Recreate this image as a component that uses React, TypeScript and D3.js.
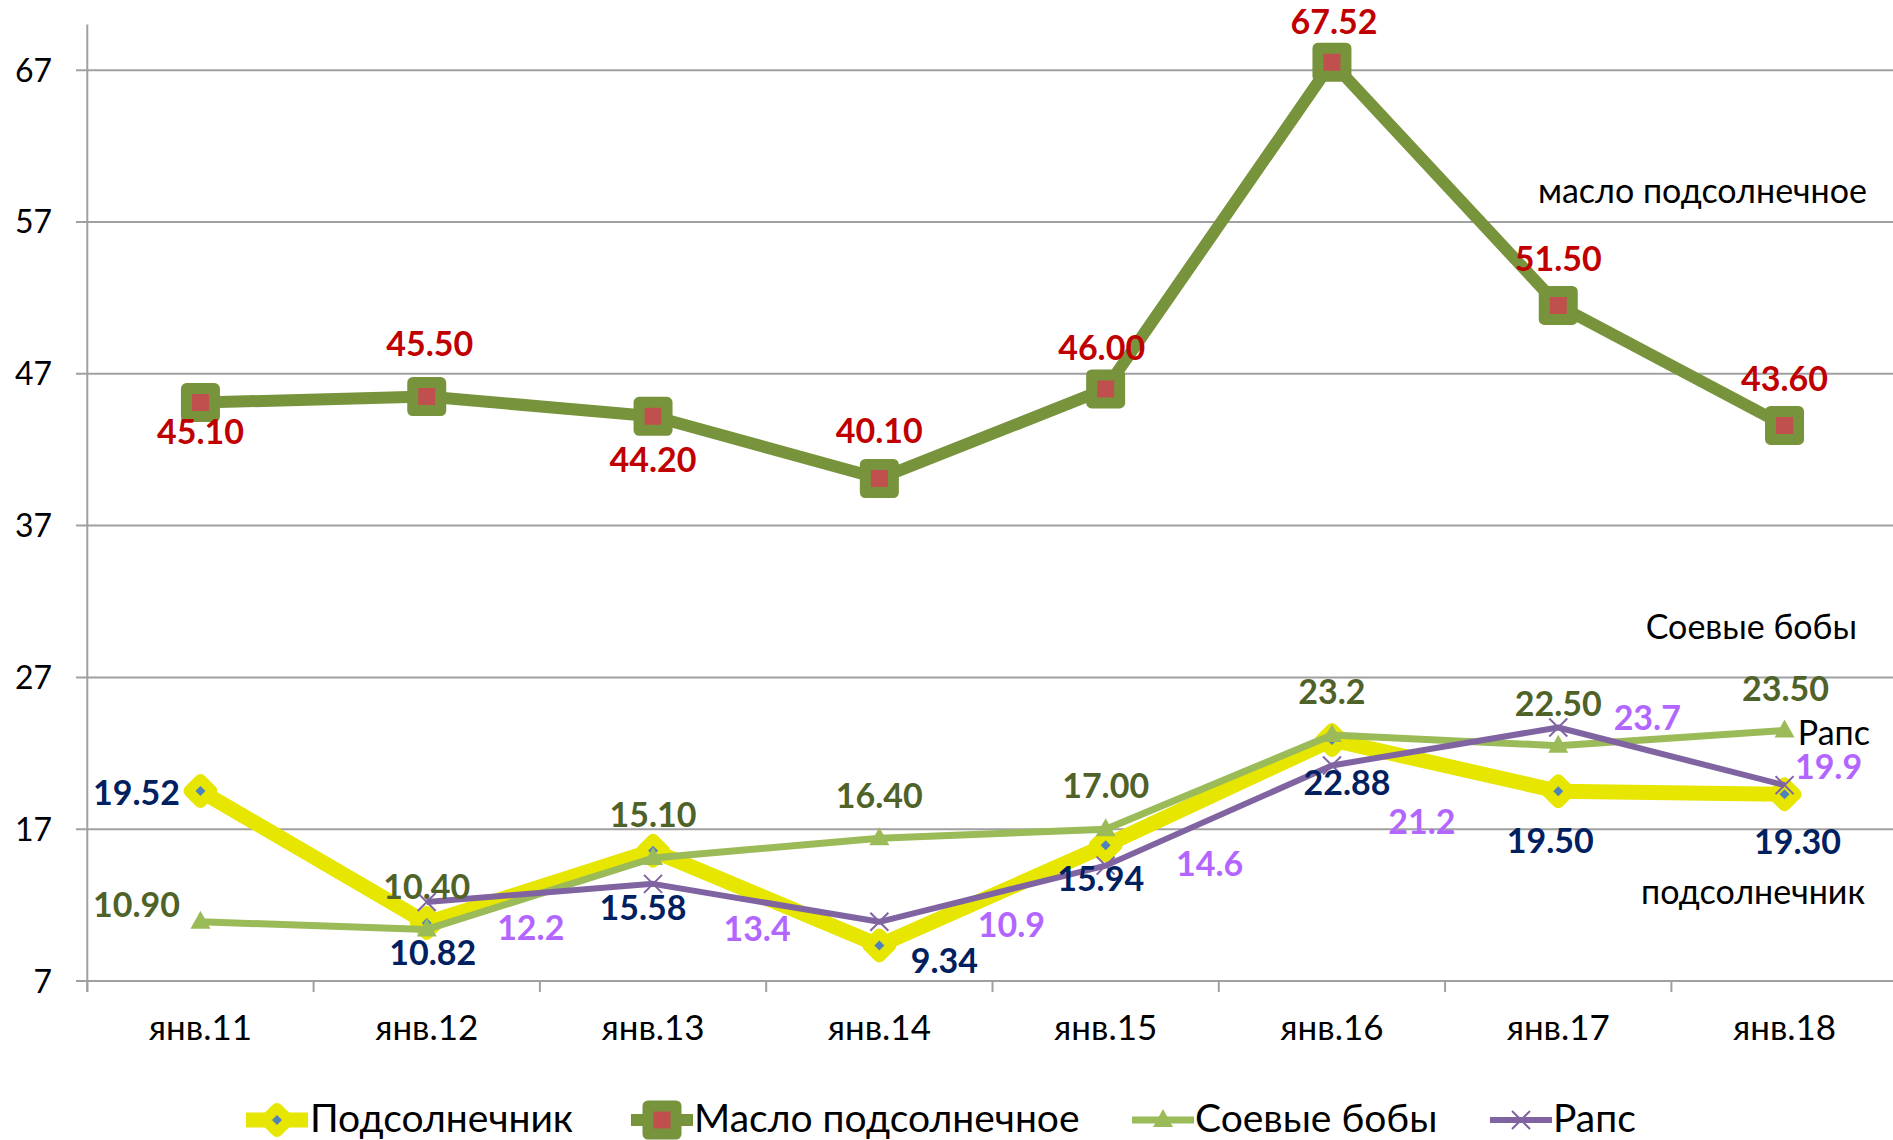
import React from "react";
import * as d3 from "d3";

const categories = ["янв.11", "янв.12", "янв.13", "янв.14", "янв.15", "янв.16", "янв.17", "янв.18"];
const sunflower = [19.52, 10.82, 15.58, 9.34, 15.94, 22.88, 19.5, 19.3];
const sunflowerOil = [45.1, 45.5, 44.2, 40.1, 46.0, 67.52, 51.5, 43.6];
const soybeans = [10.9, 10.4, 15.1, 16.4, 17.0, 23.2, 22.5, 23.5];
const soybeanLabels = ["10.90", "10.40", "15.10", "16.40", "17.00", "23.2", "22.50", "23.50"];
const rapeseed: (number | null)[] = [null, 12.2, 13.4, 10.9, 14.6, 21.2, 23.7, 19.9];
const yTicks = [7, 17, 27, 37, 47, 57, 67];
const seriesNames = ["Подсолнечник", "Масло подсолнечное", "Соевые бобы", "Рапс"];
const annotations = ["масло подсолнечное", "Соевые бобы", "Рапс", "подсолнечник"];

// label placement (dx, dy of label centre relative to the point)
const oilLabelOff = [[0, 29], [3, -53], [0, 43], [0, -48], [-4, -41], [2, -41], [0, -47], [0, -47]];
const sunLabelOff = [[-64, 2], [6, 30], [-10, 57], [65, 15], [-5, 33], [15, 43], [-8, 50], [13, 47]];
const soyLabelOff = [[-64, -17], [0, -43], [0, -43], [0, -43], [0, -43], [0, -43], [0, -42], [1, -42]];
const rapeLabelOff = [[0, 0], [104, 26], [104, 45], [132, 3], [104, -2], [90, 56], [89, -10], [44, -18]];

const W = 1893, H = 1140;
const FONT = "Lato, 'Open Sans', sans-serif";
const C = {
  sun: "#E6E600", sunInner: "#4F81BD", sunLbl: "#002060",
  oil: "#77933C", oilInner: "#C0504D", oilLbl: "#C00000",
  soy: "#9BBB59", soyLbl: "#4F6228",
  rape: "#8064A2", rapeLbl: "#B366FF",
  grid: "#A0A0A0",
};

const x = d3.scaleBand<string>().domain(categories).range([87.3, 1897.7]).padding(0);
const y = d3.scaleLinear().domain([7, 70]).range([981, 24.6]);
const cx = (i: number) => (x(categories[i]) as number) + x.bandwidth() / 2;

function Diamond({ px, py }: { px: number; py: number }) {
  const r = 11, ri = 5;
  return (
    <g transform={`translate(${px},${py})`}>
      <path d={`M0,${-r}L${r},0L0,${r}L${-r},0Z`} fill={C.sun} stroke={C.sun} strokeWidth={12} strokeLinejoin="round" />
      <path d={`M0,${-ri}L${ri},0L0,${ri}L${-ri},0Z`} fill={C.sunInner} />
    </g>
  );
}
function Square({ px, py }: { px: number; py: number }) {
  return (
    <rect x={px - 14} y={py - 14} width={28} height={28} fill={C.oilInner} stroke={C.oil} strokeWidth={11} strokeLinejoin="round" />
  );
}
function Tri({ px, py }: { px: number; py: number }) {
  return <path d={`M${px},${py - 11}L${px + 10},${py + 7}L${px - 10},${py + 7}Z`} fill={C.soy} />;
}
function Cross({ px, py }: { px: number; py: number }) {
  const s = 9;
  return (
    <g stroke={C.rape} strokeWidth={2}>
      <line x1={px - s} y1={py - s} x2={px + s} y2={py + s} />
      <line x1={px - s} y1={py + s} x2={px + s} y2={py - s} />
    </g>
  );
}

export default function App() {
  const lineGen = d3
    .line<number | null>()
    .defined((d) => d !== null)
    .x((_, i) => cx(i))
    .y((d) => y(d as number));

  const LBL = 34;
  const label = (txt: string, px: number, py: number, off: number[], color: string, key: string) => (
    <text key={key} x={px + off[0]} y={py + off[1] + LBL * 0.36} textAnchor="middle" fontFamily={FONT} fontWeight={700} fontSize={LBL} fill={color}>
      {txt}
    </text>
  );

  const f2 = d3.format(".2f");
  const f1 = d3.format(".1f");
  const boundaries = d3.range(categories.length + 1).map((k) => 87.3 + k * x.bandwidth());

  const legend = [
    { name: seriesNames[0], cx: 277, tx: 310, color: C.sun, w: 15, m: (p: number) => <Diamond px={p} py={1120} /> },
    { name: seriesNames[1], cx: 662, tx: 694, color: C.oil, w: 12, m: (p: number) => <Square px={p} py={1120} /> },
    { name: seriesNames[2], cx: 1163, tx: 1195, color: C.soy, w: 7, m: (p: number) => <Tri px={p} py={1120} /> },
    { name: seriesNames[3], cx: 1521, tx: 1553, color: C.rape, w: 6, m: (p: number) => <Cross px={p} py={1120} /> },
  ];

  return (
    <svg width={W} height={H} style={{ position: "absolute", left: 0, top: 0, background: "#fff" }}>
      {/* grid */}
      {yTicks.map((t) => (
        <g key={t}>
          <line x1={76} x2={W} y1={y(t)} y2={y(t)} stroke={C.grid} strokeWidth={2} />
          <text x={52} y={y(t) + 11.5} textAnchor="end" fontFamily={FONT} fontSize={32} fill="#000">{t}</text>
        </g>
      ))}
      <line x1={87.3} x2={87.3} y1={24.6} y2={992} stroke={C.grid} strokeWidth={2} />
      {boundaries.map((b, k) => (
        <line key={k} x1={b} x2={b} y1={981} y2={992} stroke={C.grid} strokeWidth={2} />
      ))}
      {categories.map((c, i) => (
        <text key={c} x={cx(i)} y={1040} textAnchor="middle" fontFamily={FONT} fontSize={35} fill="#000">{c}</text>
      ))}

      {/* lines */}
      <path d={lineGen(sunflower) || ""} fill="none" stroke={C.sun} strokeWidth={15} strokeLinejoin="round" />
      {sunflower.map((v, i) => <Diamond key={i} px={cx(i)} py={y(v)} />)}
      <path d={lineGen(sunflowerOil) || ""} fill="none" stroke={C.oil} strokeWidth={12} strokeLinejoin="round" />
      {sunflowerOil.map((v, i) => <Square key={i} px={cx(i)} py={y(v)} />)}
      <path d={lineGen(soybeans) || ""} fill="none" stroke={C.soy} strokeWidth={7} strokeLinejoin="round" />
      {soybeans.map((v, i) => <Tri key={i} px={cx(i)} py={y(v)} />)}
      <path d={lineGen(rapeseed) || ""} fill="none" stroke={C.rape} strokeWidth={6} strokeLinejoin="round" />
      {rapeseed.map((v, i) => (v === null ? null : <Cross key={i} px={cx(i)} py={y(v)} />))}

      {/* labels */}
      {sunflowerOil.map((v, i) => label(f2(v), cx(i), y(v), oilLabelOff[i], C.oilLbl, "o" + i))}
      {sunflower.map((v, i) => label(f2(v), cx(i), y(v), sunLabelOff[i], C.sunLbl, "s" + i))}
      {soybeans.map((v, i) => label(soybeanLabels[i], cx(i), y(v), soyLabelOff[i], C.soyLbl, "b" + i))}
      {rapeseed.map((v, i) => (v === null ? null : label(f1(v), cx(i), y(v), rapeLabelOff[i], C.rapeLbl, "r" + i)))}

      {/* annotations */}
      <text x={1867} y={203} textAnchor="end" fontFamily={FONT} fontSize={34} fill="#000">{annotations[0]}</text>
      <text x={1857} y={639} textAnchor="end" fontFamily={FONT} fontSize={34} fill="#000">{annotations[1]}</text>
      <text x={1870} y={745} textAnchor="end" fontFamily={FONT} fontSize={34} fill="#000">{annotations[2]}</text>
      <text x={1865} y={904} textAnchor="end" fontFamily={FONT} fontSize={34} fill="#000">{annotations[3]}</text>

      {/* legend */}
      {legend.map((l) => (
        <g key={l.name}>
          <line x1={l.cx - 31} x2={l.cx + 31} y1={1120} y2={1120} stroke={l.color} strokeWidth={l.w} />
          {l.m(l.cx)}
          <text x={l.tx} y={1132} fontFamily={FONT} fontSize={39} fill="#000">{l.name}</text>
        </g>
      ))}
    </svg>
  );
}
